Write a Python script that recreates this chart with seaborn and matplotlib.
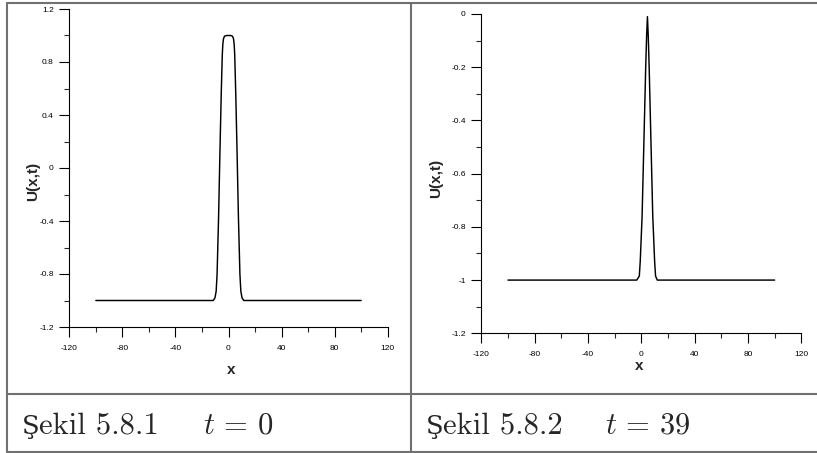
import matplotlib
matplotlib.use("Agg")
import matplotlib.pyplot as plt
from matplotlib.lines import Line2D
from matplotlib.ticker import MultipleLocator, FuncFormatter
import pandas as pd
import seaborn as sns

# Profile of U(x, t) at t = 0 (flat-topped pulse centred at x = 0)
x_t0 = [-100, -11.5, -10.2, -9.3, -8.6, -7.5, -6.5, -5.5, -4.7, -4.3, -3.8, -3.0,
        -1.5, 0, 1.5, 3.0, 3.8, 4.3, 4.7, 5.5, 6.5, 7.5, 8.6, 9.3, 10.2, 11.5, 100]
u_t0 = [-1.0, -1.0, -0.98, -0.93, -0.80, -0.38, 0.10, 0.55, 0.85, 0.93, 0.975, 0.995,
        1.0, 1.0, 1.0, 0.995, 0.975, 0.93, 0.85, 0.55, 0.10, -0.38, -0.80, -0.93,
        -0.98, -1.0, -1.0]

# Profile of U(x, t) at t = 39 (narrow peak near x = 4.6)
x_t39 = [-100, -3.4, -1.5, -0.8, 0.6, 2.1, 3.3, 4.0, 4.6, 5.2, 5.9, 7.1, 8.6,
         10.0, 10.7, 12.0, 100]
u_t39 = [-1.0, -1.0, -0.985, -0.93, -0.76, -0.45, -0.20, -0.08, -0.01, -0.08,
         -0.20, -0.45, -0.76, -0.93, -0.985, -1.0, -1.0]

caption_heads = ["Ş", "Ş"]
caption_tails = ["ekil 5.8.1", "ekil 5.8.2"]
time_labels = [r"$t\,=\,0$", r"$t\,=\,39$"]

sns.set_style("ticks")
plt.rcParams["font.family"] = ["Liberation Sans", "DejaVu Sans"]
plt.rcParams["axes.unicode_minus"] = False
plt.rcParams["mathtext.fontset"] = "cm"

W, H = 817, 453
fig = plt.figure(figsize=(W / 100, H / 100), dpi=100)

ax1 = fig.add_axes([69.3 / W, (H - 327) / H, 318.4 / W, 318 / H])
ax2 = fig.add_axes([481.3 / W, (H - 333.3) / H, 320 / W, 319.3 / H])

df1 = pd.DataFrame({"x": x_t0, "U": u_t0})
df2 = pd.DataFrame({"x": x_t39, "U": u_t39})
sns.lineplot(data=df1, x="x", y="U", ax=ax1, color="black", lw=1.05,
             sort=False, estimator=None)
sns.lineplot(data=df2, x="x", y="U", ax=ax2, color="black", lw=1.05,
             sort=False, estimator=None)


def tick_fmt(v, pos):
    return f"{round(v, 6) + 0.0:g}"


def style_axis(ax, ylim, ymajor, yminor, xlab, ylab):
    ax.set_xlim(-120, 120)
    ax.set_ylim(*ylim)
    ax.xaxis.set_major_locator(MultipleLocator(40))
    ax.xaxis.set_minor_locator(MultipleLocator(20))
    ax.yaxis.set_major_locator(MultipleLocator(ymajor))
    ax.yaxis.set_minor_locator(MultipleLocator(yminor))
    ax.xaxis.set_major_formatter(FuncFormatter(tick_fmt))
    ax.yaxis.set_major_formatter(FuncFormatter(tick_fmt))
    for side in ("top", "right"):
        ax.spines[side].set_visible(False)
    for side in ("left", "bottom"):
        ax.spines[side].set_linewidth(0.8)
        ax.spines[side].set_color("black")
    ax.tick_params(which="major", direction="out", length=7.2, width=0.8,
                   labelsize=6, colors="black")
    ax.tick_params(which="minor", direction="out", length=3.6, width=0.8)
    ax.tick_params(axis="x", which="major", pad=5.6)
    ax.tick_params(axis="y", which="major", pad=4.0)
    ax.set_xlabel("x", fontsize=11, fontweight="bold")
    ax.set_ylabel("U(x,t)", fontsize=11, fontweight="bold")
    ax.xaxis.set_label_coords(*xlab)
    ax.yaxis.set_label_coords(*ylab)
    ax.xaxis.label.set_va("center")
    ax.yaxis.label.set_va("center")
    ax.grid(False)


style_axis(ax1, (-1.2, 1.2), 0.4, 0.2, (0.508, -0.134), (-0.113, 0.459))
style_axis(ax2, (-1.2, 0.0), 0.2, 0.1, (0.493, -0.101), (-0.141, 0.486))

# Table frame around the two panels and their captions
line_kw = dict(transform=fig.transFigure, color="#707070", lw=1.5)


def fx(px):
    return px / W


def fy(py):
    return (H - py) / H


for (x0, y0, x1, y1) in [(7, 2.5, W, 2.5), (7, 2.5, 7, 452), (411, 2.5, 411, 452),
                         (7, 394, W, 394), (7, 452, W, 452)]:
    fig.add_artist(Line2D([fx(x0), fx(x1)], [fy(y0), fy(y1)], **line_kw))

# Captions: the cedilla letter comes from DejaVu Serif, the rest from cmr10
fig.canvas.draw()
renderer = fig.canvas.get_renderer()
base = fy(434)
for head, tail, tlabel, x_start, x_time in zip(caption_heads, caption_tails,
                                               time_labels, (21.5, 425.5),
                                               (203, 605)):
    h = fig.text(fx(x_start), base, head, family="DejaVu Serif", fontsize=18.5,
                 va="baseline")
    bb = h.get_window_extent(renderer=renderer)
    fig.text(bb.x1 / W, base, tail, family="cmr10", fontsize=22, va="baseline")
    fig.text(fx(x_time), base, tlabel, fontsize=22, va="baseline")

fig.savefig("out.png", dpi=100)
